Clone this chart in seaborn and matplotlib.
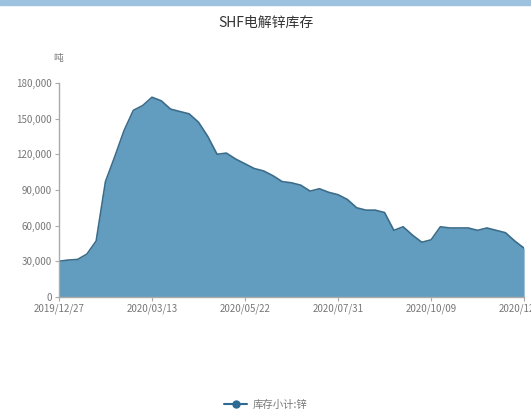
import matplotlib
matplotlib.use("Agg")
import matplotlib.pyplot as plt
import matplotlib.ticker as mticker
from matplotlib.lines import Line2D
import pandas as pd
import seaborn as sns

# weekly SHFE zinc warehouse stock (tonnes)
dates = [
    "2019/12/27", "2020/01/03", "2020/01/10", "2020/01/17", "2020/01/23",
    "2020/02/07", "2020/02/14", "2020/02/21", "2020/02/28", "2020/03/06",
    "2020/03/13", "2020/03/20", "2020/03/27", "2020/04/03", "2020/04/10",
    "2020/04/17", "2020/04/24", "2020/04/30", "2020/05/08", "2020/05/15",
    "2020/05/22", "2020/05/29", "2020/06/05", "2020/06/12", "2020/06/19",
    "2020/06/24", "2020/07/03", "2020/07/10", "2020/07/17", "2020/07/24",
    "2020/07/31", "2020/08/07", "2020/08/14", "2020/08/21", "2020/08/28",
    "2020/09/04", "2020/09/11", "2020/09/18", "2020/09/25", "2020/09/30",
    "2020/10/09", "2020/10/16", "2020/10/23", "2020/10/30", "2020/11/06",
    "2020/11/13", "2020/11/20", "2020/11/27", "2020/12/04", "2020/12/11",
    "2020/12/18",
]
stock = [
    30000, 31000, 31500, 36000, 47000,
    97000, 118000, 140000, 157000, 161000,
    168000, 165000, 158000, 156000, 154000,
    147000, 135000, 120000, 121000, 116000,
    112000, 108000, 106000, 102000, 97000,
    96000, 94000, 89000, 91000, 88000,
    86000, 82000, 75000, 73000, 73000,
    71000, 56000, 59000, 52000, 46000,
    48000, 59000, 58000, 58000, 58000,
    56000, 58000, 56000, 54000, 47000,
    41000,
]

df = pd.DataFrame({"idx": range(len(dates)), "date": dates, "stock": stock})

sns.set_theme(style="white")
plt.rcParams["font.family"] = ["Noto Sans CJK SC", "DejaVu Sans"]

fill_c = "#629dbf"
line_c = "#3b6c8a"
grey = "#777777"

fig = plt.figure(figsize=(5.31, 4.17), dpi=100)
ax = fig.add_axes([0.111, 0.288, 0.876, 0.513])

ax.fill_between(df["idx"], df["stock"], 0, color=fill_c, lw=0)
sns.lineplot(data=df, x="idx", y="stock", ax=ax, color=line_c, lw=1.2)

ax.set_xlim(0, len(dates) - 1)
ax.set_ylim(0, 180000)
ax.set_yticks(range(0, 180001, 30000))
ax.yaxis.set_major_formatter(mticker.FuncFormatter(lambda v, p: f"{int(v):,}"))
xt = list(range(0, len(dates), 10))
ax.set_xticks(xt)
ax.set_xticklabels([dates[i] for i in xt])
ax.set_xlabel("")
ax.set_ylabel("")

for s in ["top", "right"]:
    ax.spines[s].set_visible(False)
for s in ["left", "bottom"]:
    ax.spines[s].set_color("#aaaaaa")
    ax.spines[s].set_linewidth(1.0)
ax.tick_params(axis="both", which="both", direction="out", length=3, width=0.8,
               color="#aaaaaa", labelsize=7, labelcolor=grey, pad=2, left=True, bottom=True)
for lbl in ax.get_xticklabels():
    lbl.set_clip_on(False)

fig.text(0.5, 0.945, "SHF电解锌库存", ha="center", va="center", fontsize=10, color="#333333")
fig.text(0.1, 0.862, "吨", ha="left", va="center", fontsize=7, color=grey)

# thin blue band along the top edge
fig.patches.append(plt.Rectangle((0, 0.988), 1, 0.012, transform=fig.transFigure,
                                 color="#9cc2df", zorder=0))

handle = Line2D([], [], color="#2e6a92", lw=1.5, marker="o", markersize=5)
fig.legend([handle], ["库存小计:锌"], loc="center", bbox_to_anchor=(0.5, 0.03),
           frameon=False, fontsize=7.5, labelcolor=grey, handlelength=2.2, handletextpad=0.5)

fig.savefig("out.png", dpi=100)
